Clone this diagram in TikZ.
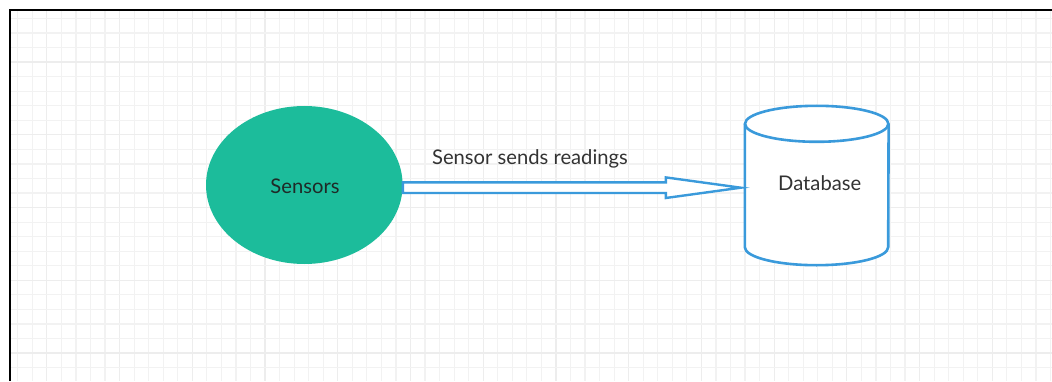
\documentclass[tikz,border=0pt]{standalone}
\usepackage{fontspec}
\setmainfont{Lato}
\usetikzlibrary{calc,shapes.geometric}
\definecolor{teal1}{HTML}{1CBC9B}
\definecolor{flowblue}{HTML}{3A9ADB}
\definecolor{ink}{HTML}{333333}
\definecolor{darkink}{HTML}{1F2A27}
\definecolor{gridminor}{HTML}{F2F2F2}
\definecolor{gridmajor}{HTML}{EDEDED}
\tikzset{
  lbl/.style={font=\fontsize{20.2}{23}\selectfont, text=ink, inner sep=0pt},
  sensorblob/.style={ellipse, fill=teal1, draw=none, inner sep=0pt,
    minimum width=196.6pt, minimum height=158pt},
  dbbox/.style={rectangle, draw=none, inner sep=0pt,
    minimum width=143.4pt, minimum height=159pt},
  dbline/.style={draw=flowblue, line width=2.6pt, fill=white},
  flow/.style={draw=flowblue, line width=2.4pt, fill=white, line join=miter},
  frame/.style={draw=black, line width=2pt},
  gminor/.style={gridminor, line width=1.2pt},
  gmajor/.style={gridmajor, line width=1.2pt},
}
\begin{document}
\begin{tikzpicture}[x=1pt,y=1pt]
\useasboundingbox (0,0) rectangle (1052,381);
\fill[white] (0,0) rectangle (1052,381);

% background grid inside the frame
\foreach \k in {0,...,71} {
  \pgfmathsetmacro{\gx}{17.8+\k*14.545}
  \pgfmathtruncatemacro{\m}{mod(\k,5)}
  \ifnum\m=2
    \draw[gmajor] (\gx,0) -- (\gx,370);
  \else
    \draw[gminor] (\gx,0) -- (\gx,370);
  \fi
}
\foreach \k in {0,...,24} {
  \pgfmathsetmacro{\gy}{362.6-\k*14.55}
  \pgfmathtruncatemacro{\m}{mod(\k,5)}
  \ifnum\m=3
    \draw[gmajor] (11,\gy) -- (1052,\gy);
  \else
    \draw[gminor] (11,\gy) -- (1052,\gy);
  \fi
}

% frame edges
\draw[frame] (10,0) -- (10,371) -- (1052,371);

% sensors
\node[sensorblob] (s) at (304.3,196) {};
\node[lbl, text=darkink] (stxt) at (305,195) {Sensors};

% database cylinder
\node[dbbox] (d) at (816.7,195.5) {};
\path[dbline]
  ($(d.north west)+(0,-18)$) -- ($(d.south west)+(0,18)$)
  arc[start angle=180, end angle=360, x radius=71.7pt, y radius=18pt]
  -- ($(d.north east)+(0,-18)$);
\draw[dbline] ($(d.north)+(0,-18)$) ellipse[x radius=71.7pt, y radius=18pt];
\node[lbl] (dtxt) at ($(d.center)+(3,2)$) {Database};

% flow arrow from sensors to database
\draw[flow] let \p1=(s.east), \p2=($(d.west)+(-4,-2.2)$) in
  (\x1,\y2+5.3pt) -- (\x2-75pt,\y2+5.3pt) -- (\x2-75pt,\y2+10.3pt)
  -- (\x2,\y2) -- (\x2-75pt,\y2-10.3pt) -- (\x2-75pt,\y2-5.3pt)
  -- (\x1,\y2-5.3pt) -- cycle;
\node[lbl, anchor=base] (flowlbl) at (530,217) {Sensor sends readings};
\end{tikzpicture}
\end{document}
